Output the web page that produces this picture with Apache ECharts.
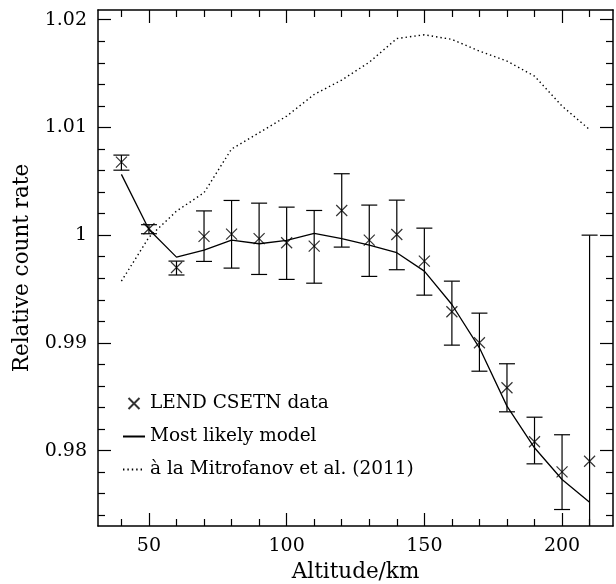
<!DOCTYPE html>
<html>
<head>
<meta charset="utf-8">
<script src="https://cdn.jsdelivr.net/npm/echarts@6/dist/echarts.min.js"></script>
<style>html,body{margin:0;padding:0;background:#fff;}#c{width:616px;height:584px;}</style>
</head>
<body>
<div id="c"></div>
<script>
const altitudes = [40,50,60,70,80,90,100,110,120,130,140,150,160,170,180,190,200,210];
const dataRate = [1.00678,1.00059,0.99700,0.99988,1.00009,0.99967,0.99929,0.99898,1.00229,0.99954,1.00006,0.99759,0.99289,0.99001,0.98583,0.98082,0.97803,0.97901];
const errLow  = [1.00603,1.00013,0.99630,0.99756,0.99694,0.99635,0.99589,0.99554,0.99889,0.99617,0.99679,0.99443,0.98979,0.98737,0.98360,0.97877,0.97453,0.95800];
const errHigh = [1.00743,1.00097,0.99759,1.00225,1.00322,1.00297,1.00260,1.00229,1.00570,1.00279,1.00325,1.00065,0.99573,0.99276,0.98806,0.98310,0.98147,1.00000];
const modelRate = [1.00564,1.00053,0.99796,0.99861,0.99954,0.99920,0.99951,1.00016,0.99967,0.99907,0.99837,0.99666,0.99356,0.98954,0.98413,0.98026,0.97732,0.97521];
const mitroRate = [0.99573,0.99980,1.00223,1.00394,1.00800,1.00950,1.01105,1.01306,1.01440,1.01605,1.01825,1.01860,1.01817,1.01708,1.01616,1.01476,1.01198,1.00980];
const xMajorTicks = [50,100,150,200];
const xMinorTicks = [40,60,70,80,90,110,120,130,140,160,170,180,190,210];
const yMajorTicks = [0.98,0.99,1.00,1.01,1.02];
const yTickLabels = ['0.98','0.99','1','1.01','1.02'];
const yMinorTicks = [0.974,0.976,0.978,0.982,0.984,0.986,0.988,0.992,0.994,0.996,0.998,1.002,1.004,1.006,1.008,1.012,1.014,1.016,1.018];
const seriesNames = ['LEND CSETN data','Most likely model','à la Mitrofanov et al. (2011)'];

const FONT = 'DejaVu Serif';
const XMIN = 31.5, XMAX = 218.5, YMIN = 0.973, YMAX = 1.0209;

function xAx(pos, ticks, len, line, labels) {
  return {
    type: 'value', position: pos, min: XMIN, max: XMAX,
    axisLine: {show: line, lineStyle: {color: '#000', width: 1.5}},
    axisTick: {show: true, inside: true, length: len, customValues: ticks, lineStyle: {color: '#000', width: 1.2}},
    axisLabel: labels ? {show: true, customValues: ticks, color: '#000', fontFamily: FONT, fontSize: 19, margin: 11} : {show: false},
    splitLine: {show: false}
  };
}
function yAx(pos, ticks, len, line, labels) {
  return {
    type: 'value', position: pos, min: YMIN, max: YMAX,
    axisLine: {show: line, lineStyle: {color: '#000', width: 1.5}},
    axisTick: {show: true, inside: true, length: len, customValues: ticks, lineStyle: {color: '#000', width: 1.2}},
    axisLabel: labels ? {show: true, customValues: ticks, color: '#000', fontFamily: FONT, fontSize: 19, margin: 11,
      formatter: function (v) { const i = yMajorTicks.findIndex(t => Math.abs(t - v) < 1e-9); return i >= 0 ? yTickLabels[i] : ''; }} : {show: false},
    splitLine: {show: false}
  };
}

const xAxes = [xAx('bottom', xMajorTicks, 13, true, true), xAx('bottom', xMinorTicks, 7, false, false),
               xAx('top', xMajorTicks, 13, true, false), xAx('top', xMinorTicks, 7, false, false)];
Object.assign(xAxes[0], {name: 'Altitude/km', nameLocation: 'middle', nameGap: 35,
  nameTextStyle: {color: '#000', fontFamily: FONT, fontSize: 21.5}});
const yAxes = [yAx('left', yMajorTicks, 13, true, true), yAx('left', yMinorTicks, 7, false, false),
               yAx('right', yMajorTicks, 13, true, false), yAx('right', yMinorTicks, 7, false, false)];
Object.assign(yAxes[0], {name: 'Relative count rate', nameLocation: 'middle', nameGap: 62,
  nameTextStyle: {color: '#000', fontFamily: FONT, fontSize: 21.5}});

const chart = echarts.init(document.getElementById('c'), null, {renderer: 'canvas'});
chart.setOption({
  animation: false,
  backgroundColor: '#fff',
  grid: {left: 98, top: 10, right: 3, bottom: 58, containLabel: false, outerBoundsMode: 'none'},
  xAxis: xAxes,
  yAxis: yAxes,
  legend: {
    left: 117, top: 389, orient: 'vertical', itemGap: 14, itemWidth: 22, itemHeight: 11,
    textStyle: {color: '#000', fontFamily: FONT, fontSize: 18.5, padding: [0,0,0,0]},
    data: [
      {name: seriesNames[0], icon: 'path://M0,0L10,10M10,0L0,10'},
      {name: seriesNames[1], itemStyle: {color: 'transparent', borderColor: 'transparent', borderWidth: 0}},
      {name: seriesNames[2], itemStyle: {color: 'transparent', borderColor: 'transparent', borderWidth: 0}}
    ]
  },
  series: [
    {
      type: 'custom', name: 'errors', xAxisIndex: 0, yAxisIndex: 0, clip: true,
      data: altitudes.map((a, i) => [a, errLow[i], errHigh[i]]),
      encode: {x: 0, y: [1, 2]},
      renderItem: function (params, api) {
        const x = api.value(0);
        const lo = api.coord([x, api.value(1)]);
        const hi = api.coord([x, api.value(2)]);
        const w = 8;
        const st = {stroke: '#000', lineWidth: 1.2};
        return {type: 'group', children: [
          {type: 'line', shape: {x1: hi[0], y1: hi[1], x2: lo[0], y2: lo[1]}, style: st},
          {type: 'line', shape: {x1: hi[0] - w, y1: hi[1], x2: hi[0] + w, y2: hi[1]}, style: st},
          {type: 'line', shape: {x1: lo[0] - w, y1: lo[1], x2: lo[0] + w, y2: lo[1]}, style: st}
        ]};
      },
      z: 2
    },
    {
      type: 'scatter', name: seriesNames[0], xAxisIndex: 0, yAxisIndex: 0,
      data: altitudes.map((a, i) => [a, dataRate[i]]),
      symbol: 'path://M0,0L10,10M10,0L0,10', symbolSize: 11,
      itemStyle: {color: 'none', borderColor: '#000', borderWidth: 1.2},
      z: 3
    },
    {
      type: 'line', name: seriesNames[1], xAxisIndex: 0, yAxisIndex: 0,
      data: altitudes.map((a, i) => [a, modelRate[i]]),
      symbol: 'none', showSymbol: false,
      lineStyle: {color: '#000', width: 1.3, type: 'solid'},
      itemStyle: {color: 'transparent', borderWidth: 0},
      z: 2
    },
    {
      type: 'line', name: seriesNames[2], xAxisIndex: 0, yAxisIndex: 0,
      data: altitudes.map((a, i) => [a, mitroRate[i]]),
      symbol: 'none', showSymbol: false,
      lineStyle: {color: '#000', width: 1.4, type: [1.4, 3]},
      itemStyle: {color: 'transparent', borderWidth: 0},
      z: 2
    }
  ]
});
</script>
</body>
</html>
